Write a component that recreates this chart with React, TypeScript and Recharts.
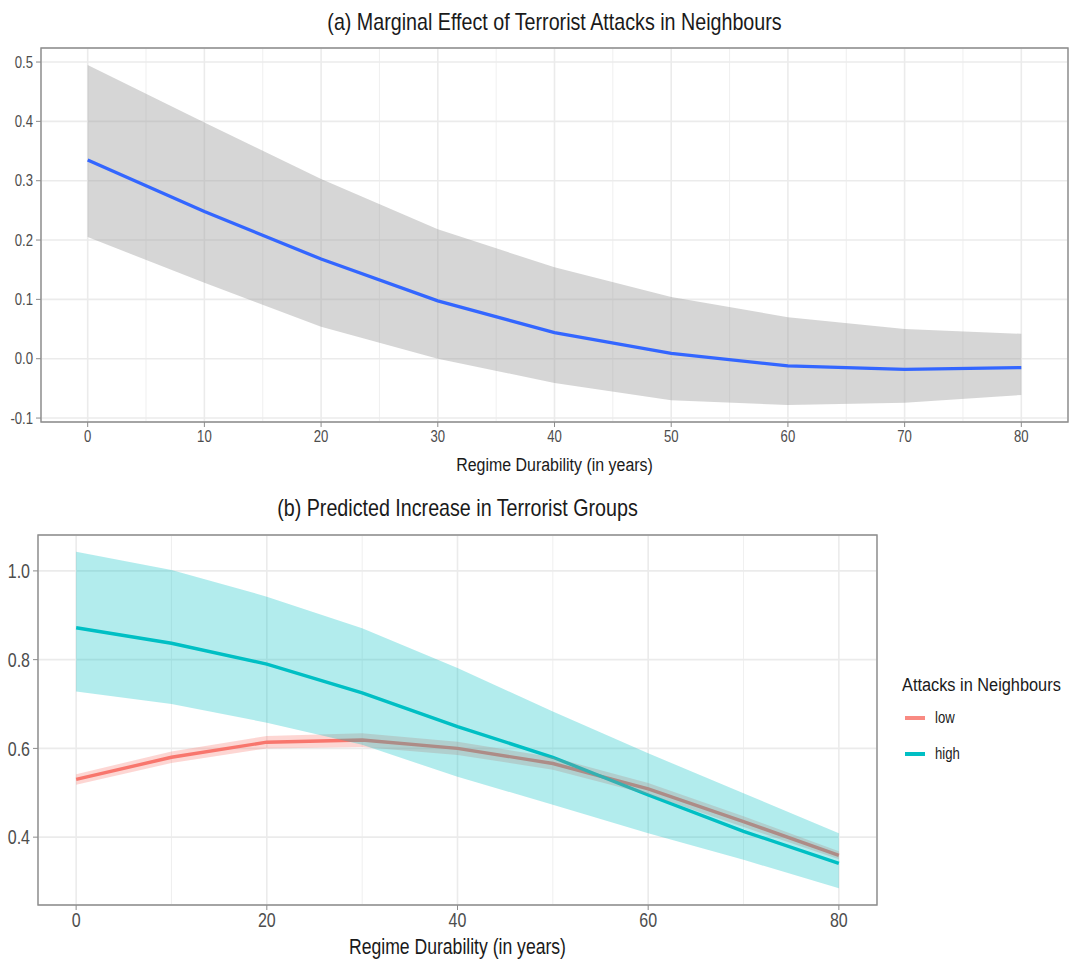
import React from "react";
import {
  ComposedChart,
  Line,
  Area,
  XAxis,
  YAxis,
  CartesianGrid,
  ReferenceArea,
  Label,
  Legend,
} from "recharts";

// shared x values (regime durability, years)
const years = [0, 10, 20, 30, 40, 50, 60, 70, 80];

// (a) marginal effect with confidence band
const effect = [0.335, 0.248, 0.168, 0.0975, 0.044, 0.009, -0.012, -0.018, -0.015];
const effectLo = [0.205, 0.128, 0.054, 0.0, -0.041, -0.07, -0.078, -0.074, -0.061];
const effectHi = [0.495, 0.398, 0.303, 0.218, 0.154, 0.104, 0.07, 0.05, 0.042];

// (b) predicted increase, low / high attacks in neighbours
const lowEst = [0.53, 0.58, 0.614, 0.619, 0.6, 0.566, 0.509, 0.435, 0.359];
const lowLo = [0.518, 0.567, 0.6, 0.603, 0.585, 0.552, 0.496, 0.423, 0.35];
const lowHi = [0.542, 0.593, 0.628, 0.634, 0.615, 0.58, 0.522, 0.447, 0.368];
const highEst = [0.872, 0.837, 0.79, 0.725, 0.649, 0.58, 0.495, 0.413, 0.341];
const highLo = [0.728, 0.7, 0.658, 0.608, 0.536, 0.473, 0.409, 0.349, 0.285];
const highHi = [1.043, 1.002, 0.942, 0.871, 0.781, 0.683, 0.589, 0.499, 0.409];

const topXTicks = [0, 10, 20, 30, 40, 50, 60, 70, 80];
const topXMinor = [5, 15, 25, 35, 45, 55, 65, 75];
const topYTicks = [-0.1, 0, 0.1, 0.2, 0.3, 0.4, 0.5];
const topYMinor = [-0.05, 0.05, 0.15, 0.25, 0.35, 0.45];
const botXTicks = [0, 20, 40, 60, 80];
const botXMinor = [10, 30, 50, 70];
const botYTicks = [0.4, 0.6, 0.8, 1.0];
const botYMinor = [0.3, 0.5, 0.7, 0.9];

const groups = ["low", "high"];
const groupColors = ["#F8766D", "#00BFC4"];

const FONT = '"Liberation Sans", Arial, sans-serif';
const GRID = "#ebebeb";
const BORDER = "#8c8c8c";
const TICK = "#4d4d4d";
const INK = "#1a1a1a";

// ggplot style 5% expansion of a continuous range
const expand = (lo: number, hi: number): [number, number] => {
  const pad = (hi - lo) * 0.05;
  return [lo - pad, hi + pad];
};

const topData = years.map((x, i) => ({
  x,
  est: effect[i],
  band: [effectLo[i], effectHi[i]],
}));

const botData = years.map((x, i) => ({
  x,
  low: lowEst[i],
  lowBand: [lowLo[i], lowHi[i]],
  high: highEst[i],
  highBand: [highLo[i], highHi[i]],
}));

const xDomain = expand(0, 80);
const topYDomain = expand(Math.min(...effectLo), Math.max(...effectHi));
const botYDomain = expand(
  Math.min(...lowLo, ...highLo),
  Math.max(...lowHi, ...highHi)
);

const fmt1 = (v: number) => v.toFixed(1);

// the original uses a condensed face; squeeze Liberation Sans horizontally
function NarrowTick(props: any) {
  const { x, y, payload, textAnchor, fs, sx, isY } = props;
  const txt = isY ? fmt1(payload.value) : String(payload.value);
  return (
    <text
      transform={`translate(${x},${y}) scale(${sx},1)`}
      textAnchor={textAnchor}
      dy={isY ? "0.36em" : "0.72em"}
      fontSize={fs}
      fontFamily={FONT}
      fill={TICK}
    >
      {txt}
    </text>
  );
}

function AxisTitle(props: any) {
  const { viewBox, value, fs, sx, dy } = props;
  const cx = viewBox.x + viewBox.width / 2;
  return (
    <text transform={`translate(${cx},${viewBox.y + dy}) scale(${sx},1)`} textAnchor="middle" fontSize={fs} fontFamily={FONT} fill={INK}>
      {value}
    </text>
  );
}

function GgLegend() {
  return (
    <svg width={175} height={100}>
      <text transform="translate(2,21) scale(0.86,1)" fontSize={19} fontFamily={FONT} fill={INK}>
        Attacks in Neighbours
      </text>
      {groups.map((g, i) => (
        <g key={g} transform={`translate(0,${48 + i * 36})`}>
          <line x1={5} x2={25} y1={0} y2={0} stroke={groupColors[i]} strokeWidth={4} opacity={i === 0 ? 0.85 : 1} />
          <text transform="translate(35,5) scale(0.82,1)" fontSize={16} fontFamily={FONT} fill={INK}>
            {g}
          </text>
        </g>
      ))}
    </svg>
  );
}

const titleStyle = (left: number, width: number, top: number): React.CSSProperties => ({
  position: "absolute",
  left,
  width,
  top,
  textAlign: "center",
  fontSize: 24,
  color: INK,
  transform: "scaleX(0.82)",
  transformOrigin: "center",
  whiteSpace: "nowrap",
});

export default function App() {
  return (
    <div style={{ position: "absolute", left: 0, top: 0, width: 1075, height: 967, background: "#fff", fontFamily: FONT }}>
      <div style={titleStyle(41, 1027, 8)}>(a) Marginal Effect of Terrorist Attacks in Neighbours</div>
      <div style={{ position: "absolute", left: 0, top: 0 }}>
        <ComposedChart width={1075} height={480} data={topData} margin={{ top: 48, right: 7, left: 0, bottom: 0 }}>
          <XAxis xAxisId="minor" dataKey="x" type="number" domain={xDomain} ticks={topXMinor} hide />
          <YAxis yAxisId="minor" type="number" domain={topYDomain} ticks={topYMinor} hide />
          <CartesianGrid xAxisId="minor" yAxisId="minor" stroke={GRID} strokeWidth={0.8} />
          <CartesianGrid stroke={GRID} strokeWidth={1.6} />
          <XAxis
            dataKey="x"
            type="number"
            domain={xDomain}
            ticks={topXTicks}
            allowDataOverflow
            height={58}
            axisLine={false}
            tickLine={{ stroke: BORDER }}
            tickSize={5}
            tickMargin={3}
            tick={<NarrowTick fs={16} sx={0.82} />}
          >
            <Label content={<AxisTitle value="Regime Durability (in years)" fs={19} sx={0.84} dy={49} />} />
          </XAxis>
          <YAxis
            type="number"
            domain={topYDomain}
            ticks={topYTicks}
            allowDataOverflow
            width={41}
            axisLine={false}
            tickLine={{ stroke: BORDER }}
            tickSize={5}
            tickMargin={3}
            tick={<NarrowTick fs={16} sx={0.82} isY />}
          />
          <Area dataKey="band" type="linear" stroke="none" fill="#999999" fillOpacity={0.4} isAnimationActive={false} />
          <Line dataKey="est" type="linear" stroke="#3366FF" strokeWidth={3.3} dot={false} activeDot={false} isAnimationActive={false} />
          <ReferenceArea x1={xDomain[0]} x2={xDomain[1]} y1={topYDomain[0]} y2={topYDomain[1]} fill="none" stroke={BORDER} strokeWidth={1.4} ifOverflow="visible" />
        </ComposedChart>
      </div>

      <div style={titleStyle(38, 839, 494)}>(b) Predicted Increase in Terrorist Groups</div>
      <div style={{ position: "absolute", left: 0, top: 490 }}>
        <ComposedChart width={1075} height={477} data={botData} margin={{ top: 45, right: 23, left: 0, bottom: 0 }}>
          <XAxis xAxisId="minor" dataKey="x" type="number" domain={xDomain} ticks={botXMinor} hide />
          <YAxis yAxisId="minor" type="number" domain={botYDomain} ticks={botYMinor} hide />
          <CartesianGrid xAxisId="minor" yAxisId="minor" stroke={GRID} strokeWidth={0.8} />
          <CartesianGrid stroke={GRID} strokeWidth={1.6} />
          <XAxis
            dataKey="x"
            type="number"
            domain={xDomain}
            ticks={botXTicks}
            allowDataOverflow
            height={62}
            axisLine={false}
            tickLine={{ stroke: BORDER }}
            tickSize={5}
            tickMargin={3}
            tick={<NarrowTick fs={20} sx={0.8} />}
          >
            <Label content={<AxisTitle value="Regime Durability (in years)" fs={22} sx={0.8} dy={49} />} />
          </XAxis>
          <YAxis
            type="number"
            domain={botYDomain}
            ticks={botYTicks}
            allowDataOverflow
            width={38}
            axisLine={false}
            tickLine={{ stroke: BORDER }}
            tickSize={5}
            tickMargin={3}
            tick={<NarrowTick fs={20} sx={0.8} isY />}
          />
          <Line dataKey="low" type="linear" stroke={groupColors[0]} strokeWidth={3.4} dot={false} activeDot={false} isAnimationActive={false} zIndex={400} />
          <Line dataKey="high" type="linear" stroke={groupColors[1]} strokeWidth={3.4} dot={false} activeDot={false} isAnimationActive={false} zIndex={400} />
          <Area dataKey="lowBand" type="linear" stroke="none" fill={groupColors[0]} fillOpacity={0.3} isAnimationActive={false} zIndex={450} />
          <Area dataKey="highBand" type="linear" stroke="none" fill={groupColors[1]} fillOpacity={0.3} isAnimationActive={false} zIndex={450} />
          <ReferenceArea x1={xDomain[0]} x2={xDomain[1]} y1={botYDomain[0]} y2={botYDomain[1]} fill="none" stroke={BORDER} strokeWidth={1.4} ifOverflow="visible" />
          <Legend
            layout="vertical"
            align="right"
            verticalAlign="top"
            width={175}
            content={<GgLegend />}
            wrapperStyle={{ left: 900, top: 180, width: 175 }}
          />
        </ComposedChart>
      </div>
    </div>
  );
}
